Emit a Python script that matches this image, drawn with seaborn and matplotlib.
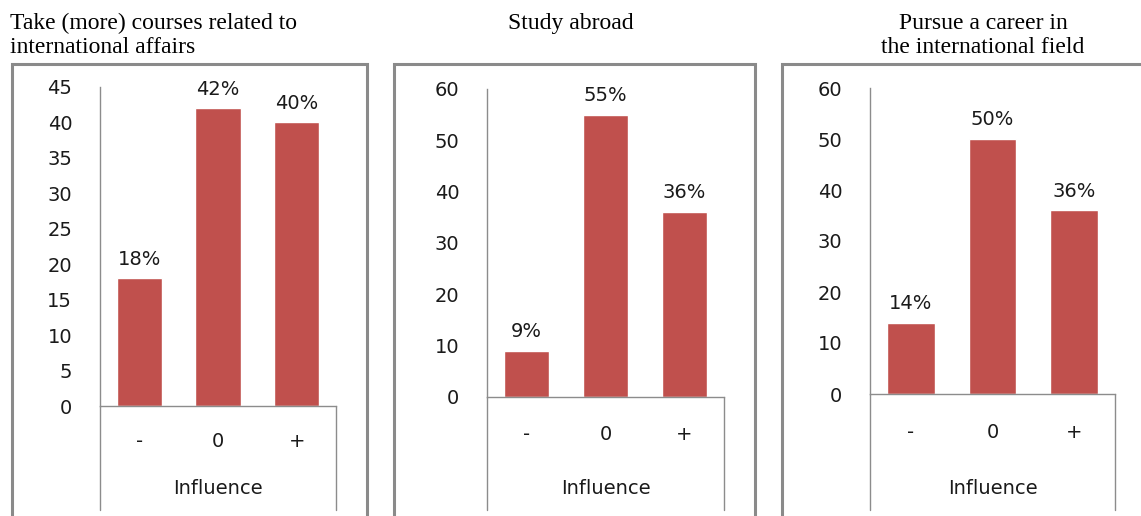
import matplotlib
matplotlib.use("Agg")
import matplotlib.pyplot as plt
from matplotlib.patches import Rectangle
from matplotlib.lines import Line2D
import seaborn as sns
import pandas as pd

sns.set_theme(style="white")
plt.rcParams["font.family"] = ["DejaVu Sans"]

# Survey results: share of respondents by influence level
influence = ["-", "0", "+"]
courses = [18, 42, 40]
study_abroad = [9, 55, 36]
career = [14, 50, 36]

titles = [
    "Take (more) courses related to\ninternational affairs",
    "Study abroad",
    "Pursue a career in\nthe international field",
]
series = [courses, study_abroad, career]
y_max = [45, 60, 60]
y_step = [5, 10, 10]

BAR = "#C0504D"
AXIS = "#8c8c8c"
BOX = "#8a8a8a"
TXT = "#1a1a1a"
FS = 14

W, H = 1141, 516
fig = plt.figure(figsize=(W / 100, H / 100), dpi=100)

# axes rectangles in pixels: left, right, top (ymax), bottom (zero)
axes_px = [(100, 336, 87, 406), (487, 724, 89, 397), (870, 1115, 88, 394)]
boxes_px = [(12, 367), (394, 755), (782, 1160)]
title_pos = [(10, "left"), (571, "center"), (983, "center")]
xtick_pad = [19, 20.5, 21]


def fx(px):
    return px / W


def fy(py):
    return 1 - py / H


for i, (vals, ttl) in enumerate(zip(series, titles)):
    l, r, t, b = axes_px[i]
    # outer frame around each panel (runs off the bottom of the figure)
    bl, br = boxes_px[i]
    fig.patches.append(Rectangle((fx(bl), fy(560)), fx(br - bl), fy(64) - fy(560),
                                 transform=fig.transFigure, fill=False,
                                 edgecolor=BOX, linewidth=2.2, zorder=0))

    ax = fig.add_axes([fx(l), fy(b), fx(r - l), fy(t) - fy(b)])
    df = pd.DataFrame({"Influence": influence, "Percent": vals})
    sns.barplot(data=df, x="Influence", y="Percent", order=influence,
                color=BAR, saturation=1, width=0.58, ax=ax)
    ax.set_xlim(-0.5, 2.5)
    ax.set_ylim(0, y_max[i])
    ax.set_yticks(range(0, y_max[i] + 1, y_step[i]))
    ax.tick_params(axis="y", length=0, pad=20, labelsize=FS, labelcolor=TXT)
    ax.tick_params(axis="x", length=0, pad=xtick_pad[i], labelsize=FS, labelcolor=TXT)
    ax.set_ylabel("")
    ax.set_xlabel("Influence", fontsize=FS, color=TXT, va="center")
    # axis title sits at a fixed height near the bottom of the category box
    ax.xaxis.set_label_coords(0.5, -(489 - b) / (b - t))
    for s in ("top", "right"):
        ax.spines[s].set_visible(False)
    for s in ("left", "bottom"):
        ax.spines[s].set_color(AXIS)
        ax.spines[s].set_linewidth(1.0)

    # category box lines continuing below the axis
    drop = (510 - b) / (b - t)
    ax.add_line(Line2D([0, 0], [0, -drop], transform=ax.transAxes, color=AXIS,
                       linewidth=1.0, clip_on=False))
    ax.add_line(Line2D([1, 1], [0, -drop], transform=ax.transAxes, color=AXIS,
                       linewidth=1.0, clip_on=False))

    for c in ax.containers:
        ax.bar_label(c, labels=[f"{v}%" for v in vals], padding=7,
                     fontsize=FS, color=TXT)

    x0, ha = title_pos[i]
    fig.text(fx(x0), fy(13), ttl, ha=ha, va="top", fontsize=17,
             family="Liberation Serif", color="black", linespacing=1.2,
             multialignment="center" if ha == "center" else "left")

fig.savefig("out.png", dpi=100)
